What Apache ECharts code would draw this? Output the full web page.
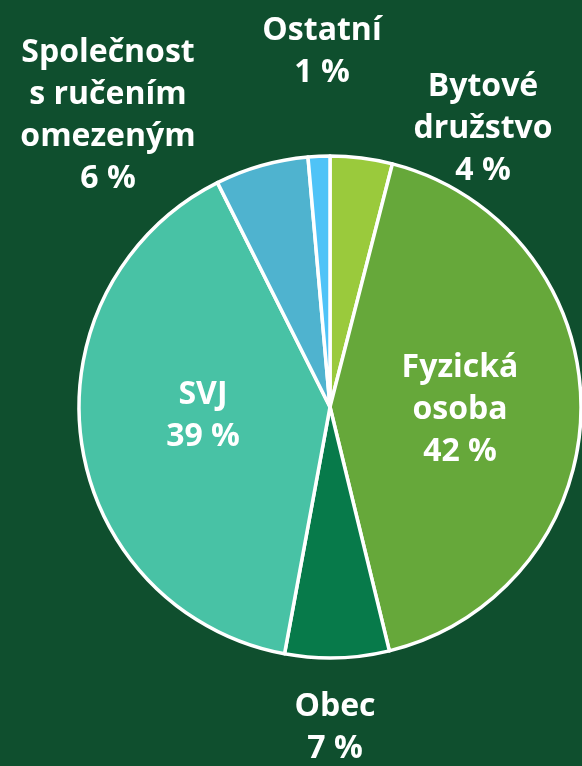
<!DOCTYPE html>
<html>
<head>
<meta charset="utf-8">
<script src="https://cdn.jsdelivr.net/npm/echarts@6/dist/echarts.min.js"></script>
<style>
  html, body { margin: 0; padding: 0; background: #0F4F2E; }
  #main { width: 582px; height: 766px; }
</style>
</head>
<body>
<div id="main"></div>
<script>
// data, clockwise from 12 o'clock
const names = ['Bytové\ndružstvo', 'Fyzická\nosoba', 'Obec', 'SVJ', 'Společnost\ns ručením\nomezeným', 'Ostatní']
const shares = [4.0, 42.2, 6.7, 39.7, 6.0, 1.4]
const shownPct = [4, 42, 7, 39, 6, 1]
const colors = ['#9ACA3C', '#66A83A', '#077A4A', '#48C2A5', '#4FB3CF', '#4FC3F7']
const inside = [false, true, false, true, false, false]

// label centres (layout only)
const labelPos = [
  [483, 129],
  [460, 410],
  [335, 728],
  [203, 416],
  [108, 116],
  [322, 52]
]

const chart = echarts.init(document.getElementById('main'))

chart.setOption({
  backgroundColor: '#0F4F2E',
  animation: false,
  series: [
    {
      type: 'pie',
      center: [330, 407],
      radius: 251,
      startAngle: 90,
      clockwise: true,
      itemStyle: {
        borderColor: '#fff',
        borderWidth: 3.5
      },
      label: {
        show: true,
        color: '#fff',
        fontFamily: 'Open Sans',
        fontWeight: 'bold',
        fontSize: 32,
        lineHeight: 42,
        align: 'center',
        overflow: 'none',
        formatter: p => p.name + '\n' + shownPct[p.dataIndex] + ' %'
      },
      labelLine: { show: false },
      labelLayout: p => ({
        x: labelPos[p.dataIndex][0],
        y: labelPos[p.dataIndex][1],
        align: 'center',
        verticalAlign: 'middle'
      }),
      emphasis: { disabled: true },
      data: names.map((n, i) => ({
        name: n,
        value: shares[i],
        itemStyle: { color: colors[i] },
        label: { position: inside[i] ? 'inside' : 'outside' }
      }))
    }
  ]
})
</script>
</body>
</html>
